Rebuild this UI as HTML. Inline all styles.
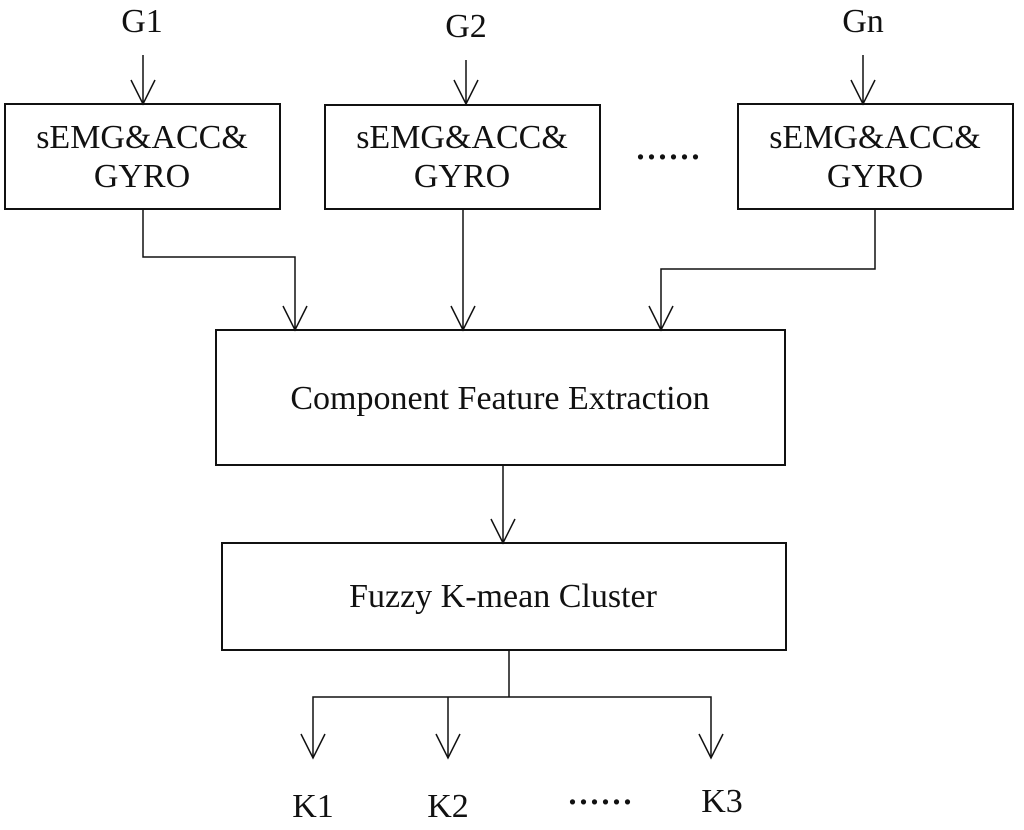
<!DOCTYPE html>
<html><head><style>
html,body{margin:0;padding:0;background:#fff;}
svg{display:block;}
text{font-family:"Liberation Serif",serif;fill:#111;}
</style></head><body>
<svg width="1024" height="830" viewBox="0 0 1024 830" xmlns="http://www.w3.org/2000/svg">
<g stroke="#111" stroke-width="2" fill="none">
<rect x="5" y="104" width="275" height="105"/>
<rect x="325" y="105" width="275" height="104"/>
<rect x="738" y="104" width="275" height="105"/>
<rect x="216" y="330" width="569" height="135"/>
<rect x="222" y="543" width="564" height="107"/>
</g>
<g stroke="#111" stroke-width="1.5" fill="none">
<path d="M143 55V104M131 80L143 104L155 80"/>
<path d="M466 60V104M454 80L466 104L478 80"/>
<path d="M863 55V104M851 80L863 104L875 80"/>
<path d="M143 209V257H295V330M283 306L295 330L307 306"/>
<path d="M463 209V330M451 306L463 330L475 306"/>
<path d="M875 209V269H661V330M649 306L661 330L673 306"/>
<path d="M503 465V543M491 519L503 543L515 519"/>
<path d="M509 650V697M313 758V697H711V758M448 697V758"/>
<path d="M301 734L313 758L325 734M436 734L448 758L460 734M699 734L711 758L723 734"/>
</g>
<g font-size="34" text-anchor="middle">
<text x="142" y="32">G1</text>
<text x="466" y="37">G2</text>
<text x="863" y="32">Gn</text>
<text x="142" y="148">sEMG&amp;ACC&amp;</text>
<text x="142" y="187">GYRO</text>
<text x="462" y="148">sEMG&amp;ACC&amp;</text>
<text x="462" y="187">GYRO</text>
<text x="875" y="148">sEMG&amp;ACC&amp;</text>
<text x="875" y="187">GYRO</text>
<text x="668" y="159" font-size="44">......</text>
<text x="500" y="409">Component Feature Extraction</text>
<text x="503" y="607">Fuzzy K-mean Cluster</text>
<text x="313" y="817">K1</text>
<text x="448" y="817">K2</text>
<text x="600" y="804" font-size="44">......</text>
<text x="722" y="812">K3</text>
</g>
</svg>
</body></html>
